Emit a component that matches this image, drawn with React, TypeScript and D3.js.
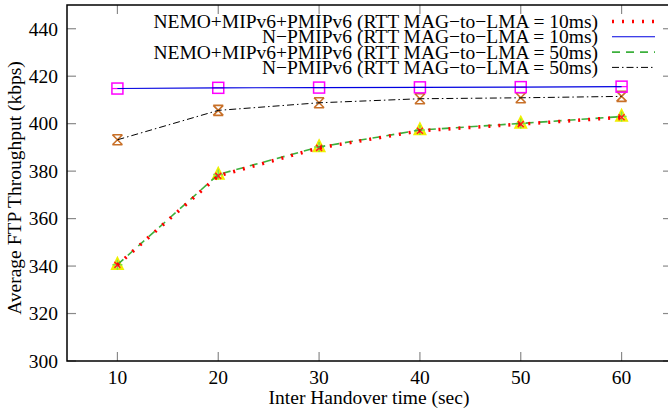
import React, { useEffect, useRef } from "react";
import * as d3 from "d3";

const handover = [10, 20, 30, 40, 50, 60];
const nemo10 = [340.5, 378, 389.8, 397, 399.8, 402.7];
const npmip10 = [414.8, 415.1, 415.2, 415.3, 415.4, 415.6];
const nemo50 = [340.6, 378.6, 390.2, 397.3, 400.1, 403];
const npmip50 = [393.2, 405.6, 408.8, 410.5, 410.9, 411.5];
const xTicks = [10, 20, 30, 40, 50, 60];
const yTicks = [300, 320, 340, 360, 380, 400, 420, 440];
const legendLabels = [
  "NEMO+MIPv6+PMIPv6 (RTT MAG\u2212to\u2212LMA = 10ms)",
  "N\u2212PMIPv6 (RTT MAG\u2212to\u2212LMA = 10ms)",
  "NEMO+MIPv6+PMIPv6 (RTT MAG\u2212to\u2212LMA = 50ms)",
  "N\u2212PMIPv6 (RTT MAG\u2212to\u2212LMA = 50ms)",
];

const W = 668;
const H = 414;

const App = () => {
  const svgRef = useRef<SVGSVGElement>(null);

  useEffect(() => {
    const svg = d3.select(svgRef.current);
    svg.selectAll("*").remove();

    const left = 67, right = 672, top = 5, bottom = 361;
    const x = d3.scaleLinear().domain([5, 65]).range([left, right]);
    const y = d3.scaleLinear().domain([300, 450]).range([bottom, top]);
    const font = "'Liberation Serif', 'Times New Roman', serif";
    const fs = 19.5;

    // tick marks on all four sides
    const tickCol = "#8a8a8a";
    yTicks.forEach((t) => {
      svg.append("line").attr("x1", left).attr("x2", left + 9)
        .attr("y1", y(t)).attr("y2", y(t)).attr("stroke", tickCol).attr("stroke-width", 1.2);
      svg.append("line").attr("x1", right - 9).attr("x2", right)
        .attr("y1", y(t)).attr("y2", y(t)).attr("stroke", tickCol).attr("stroke-width", 1.2);
      svg.append("text").attr("x", left - 9).attr("y", y(t)).attr("dy", "0.35em")
        .attr("text-anchor", "end").attr("font-family", font).attr("font-size", fs)
        .text(t);
    });
    xTicks.forEach((t) => {
      svg.append("line").attr("x1", x(t)).attr("x2", x(t))
        .attr("y1", bottom).attr("y2", bottom - 9).attr("stroke", tickCol).attr("stroke-width", 1.2);
      svg.append("line").attr("x1", x(t)).attr("x2", x(t))
        .attr("y1", top).attr("y2", top + 9).attr("stroke", tickCol).attr("stroke-width", 1.2);
      svg.append("text").attr("x", x(t)).attr("y", bottom + 23)
        .attr("text-anchor", "middle").attr("font-family", font).attr("font-size", fs)
        .text(t);
    });

    svg.append("rect").attr("x", left).attr("y", top)
      .attr("width", right - left).attr("height", bottom - top)
      .attr("fill", "none").attr("stroke", "#000").attr("stroke-width", 1.5);

    // axis titles
    svg.append("text").attr("x", 369).attr("y", 404)
      .attr("text-anchor", "middle").attr("font-family", font).attr("font-size", fs)
      .text("Inter Handover time (sec)");
    svg.append("text").attr("transform", `translate(21,188) rotate(-90)`)
      .attr("text-anchor", "middle").attr("font-family", font).attr("font-size", fs)
      .text("Average FTP Throughput (kbps)");

    const line = d3.line<number>().x((d, i) => x(handover[i])).y((d) => y(d));

    // markers
    const g = svg.append("g");
    [nemo50, nemo10].forEach((s, si) => {
      s.forEach((v, i) => {
        const cx = x(handover[i]), cy = y(v);
        if (si === 0) {
          g.append("path")
            .attr("d", `M${cx},${cy - 6}L${cx + 5},${cy + 4}L${cx - 5},${cy + 4}Z`)
            .attr("fill", "none").attr("stroke", "#f0f000").attr("stroke-width", 2.5);
          g.append("path")
            .attr("d", `M${cx - 5},${cy}H${cx + 5}M${cx},${cy - 5}V${cy + 5}`)
            .attr("stroke", "#7fe040").attr("stroke-width", 1.5);
        } else {
          g.append("path")
            .attr("d", `M${cx - 3},${cy - 3}L${cx + 3},${cy + 3}M${cx + 3},${cy - 3}L${cx - 3},${cy + 3}`)
            .attr("stroke", "#ff2020").attr("stroke-width", 1.5);
        }
      });
    });

    // N-PMIPv6 50ms hourglass markers
    npmip50.forEach((v, i) => {
      const cx = x(handover[i]), cy = y(v);
      g.append("path")
        .attr("d", `M${cx - 5},${cy - 5}H${cx + 5}M${cx - 5},${cy + 5}H${cx + 5}M${cx - 5},${cy - 5}L${cx + 5},${cy + 5}M${cx + 5},${cy - 5}L${cx - 5},${cy + 5}`)
        .attr("stroke", "#c87028").attr("stroke-width", 1.6).attr("fill", "none");
    });

    // series lines
    svg.append("path").datum(nemo50).attr("d", line).attr("fill", "none")
      .attr("stroke", "#3cb03c").attr("stroke-width", 1.6).attr("stroke-dasharray", "8,6");
    svg.append("path").datum(nemo10).attr("d", line).attr("fill", "none")
      .attr("stroke", "#ff0000").attr("stroke-width", 3.5).attr("stroke-dasharray", "2,8");
    svg.append("path").datum(npmip50).attr("d", line).attr("fill", "none")
      .attr("stroke", "#000").attr("stroke-width", 1).attr("stroke-dasharray", "7,3,1.5,3");
    svg.append("path").datum(npmip10).attr("d", line).attr("fill", "none")
      .attr("stroke", "#0000e0").attr("stroke-width", 1.1);

    // N-PMIPv6 10ms square markers
    npmip10.forEach((v, i) => {
      const cx = x(handover[i]), cy = y(v);
      g.append("rect").attr("x", cx - 5.5).attr("y", cy - 5.5).attr("width", 11).attr("height", 11)
        .attr("fill", "none").attr("stroke", "#ff00ff").attr("stroke-width", 1.5);
      g.append("line").attr("x1", cx - 5.5).attr("x2", cx + 5.5).attr("y1", cy).attr("y2", cy)
        .attr("stroke", "#ff00ff").attr("stroke-width", 1.2);
    });

    // legend
    const legendStyles = [
      { c: "#ff0000", w: 3.5, d: "2,8" },
      { c: "#0000e0", w: 1.1, d: "none" },
      { c: "#3cb03c", w: 1.6, d: "8,6" },
      { c: "#000", w: 1, d: "7,3,1.5,3" },
    ];
    legendLabels.forEach((lab, i) => {
      const ly = 21.5 + i * 15.3;
      svg.append("text").attr("x", 598).attr("y", ly).attr("dy", "0.33em")
        .attr("text-anchor", "end").attr("font-family", font).attr("font-size", fs)
        .text(lab);
      svg.append("line").attr("x1", 612).attr("x2", 655).attr("y1", ly).attr("y2", ly)
        .attr("stroke", legendStyles[i].c).attr("stroke-width", legendStyles[i].w)
        .attr("stroke-dasharray", legendStyles[i].d);
    });
  }, []);

  return <svg ref={svgRef} width={W} height={H} style={{ position: "absolute", left: 0, top: 0, background: "#fff" }} />;
};

export default App;
